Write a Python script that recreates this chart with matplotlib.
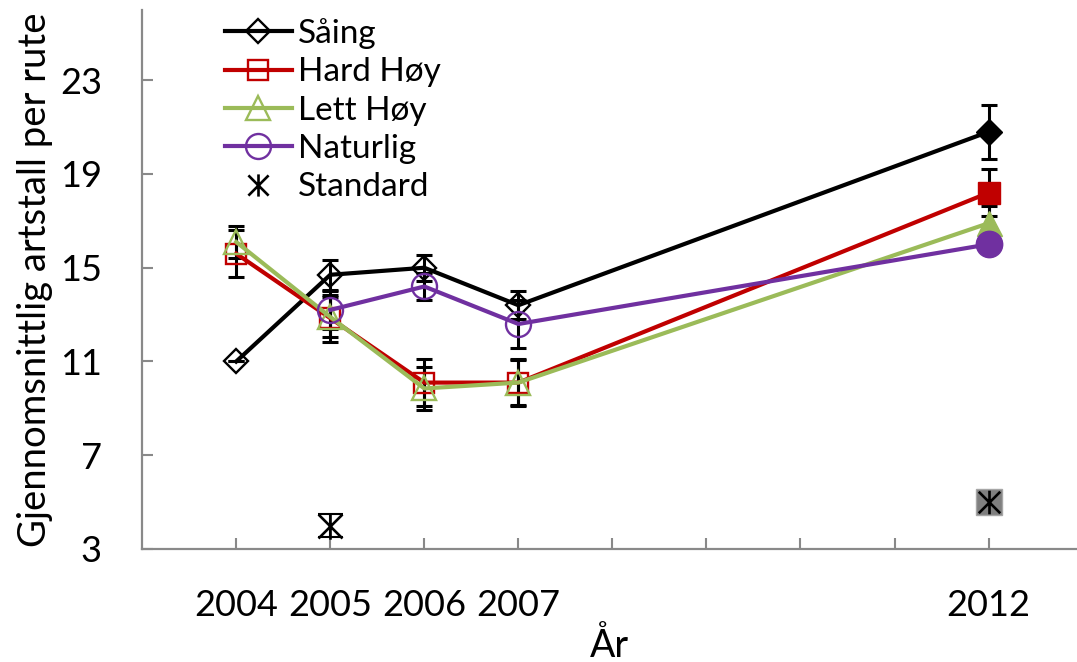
import matplotlib
matplotlib.use("Agg")
import matplotlib.pyplot as plt
from matplotlib.path import Path
from matplotlib.lines import Line2D

plt.rcParams['font.family'] = ['Lato', 'DejaVu Sans']

# ---- data ----
years = [2004, 2005, 2006, 2007, 2012]
saing = [11.0, 14.7, 15.0, 13.4, 20.8]
saing_err = [0.0, 0.65, 0.55, 0.6, 1.15]
hard_years = [2004, 2005, 2006, 2007, 2012]
hard = [15.6, 12.85, 10.1, 10.1, 18.2]
hard_err = [1.0, 1.0, 1.0, 1.0, 1.0]
lett_years = [2004, 2005, 2006, 2007, 2012]
lett = [16.1, 12.9, 9.85, 10.1, 16.9]
lett_err = [0.7, 0.85, 0.9, 0.95, 0.74]
nat_years = [2005, 2006, 2007, 2012]
nat = [13.2, 14.2, 12.6, 16.0]
nat_err = [0.8, 0.57, 1.04, 0.3]
std_years = [2005, 2012]
std = [4.0, 5.0]
std_err = [0.5, 0.0]

series_names = ["Såing", "Hard Høy", "Lett Høy", "Naturlig", "Standard"]
xtick_years = [2004, 2005, 2006, 2007, 2008, 2009, 2010, 2011, 2012]
xtick_labels = ["2004", "2005", "2006", "2007", "", "", "", "", "2012"]
ytick_values = [3, 7, 11, 15, 19, 23]
xlabel = "År"
ylabel = "Gjennomsnittlig artstall per rute"

# ---- style ----
colors = ["#000000", "#C00000", "#9BBB59", "#7030A0"]
markers = ["D", "s", "^", "o"]
msizes = [12.5, 15, 17, 18]
axis_gray = "#898989"

star = Path([(-1, -1), (1, 1), (-1, 1), (1, -1), (0, -1.1), (0, 1.1)],
            [Path.MOVETO, Path.LINETO, Path.MOVETO, Path.LINETO, Path.MOVETO, Path.LINETO])

fig = plt.figure(figsize=(10.77, 6.62), dpi=100)
ax = fig.add_axes([0.132, 0.1707, 0.868, 0.8143])

data = [(years, saing, saing_err), (hard_years, hard, hard_err),
        (lett_years, lett, lett_err), (nat_years, nat, nat_err)]

for i, (xs, ys, es) in enumerate(data):
    c = colors[i]
    ax.errorbar(xs, ys, yerr=es, fmt='none', ecolor='black', elinewidth=2.2,
                capsize=5.5, capthick=2.2, zorder=3 + i * 0.1)
    ax.plot(xs, ys, color=c, lw=3.0, zorder=3.2 + i * 0.1)
    ax.plot(xs[:-1], ys[:-1], ls='none', marker=markers[i], ms=msizes[i],
            mfc='none', mec=c, mew=1.7, zorder=3.3 + i * 0.1)
    ax.plot(xs[-1:], ys[-1:], ls='none', marker=markers[i], ms=msizes[i] + 1,
            mfc=c, mec=c, mew=1.0, zorder=3.3 + i * 0.1)

# Standard
ax.errorbar(std_years[:1], std[:1], yerr=std_err[:1], fmt='none', ecolor='black',
            elinewidth=1.5, capsize=9, capthick=1.5, zorder=4)
ax.plot(std_years[:1], std[:1], ls='none', marker=star, ms=19, mec='black',
        mew=1.9, zorder=4.1)
ax.plot(std_years[1:], std[1:], ls='none', marker='s', ms=18.5, mfc='#7F7F7F',
        mec='#A6A6A6', mew=1.0, zorder=4)
ax.plot(std_years[1:], std[1:], ls='none', marker=star, ms=17, mec='black',
        mew=1.9, zorder=4.1)

ax.set_xlim(2003, 2012.94)
ax.set_ylim(3, 26)
ax.set_xticks(xtick_years)
ax.set_xticklabels(xtick_labels)
ax.set_yticks(ytick_values)
ax.tick_params(axis='both', direction='in', length=8, width=1.5, color=axis_gray,
               labelsize=26, pad=29)
for s in ['top', 'right']:
    ax.spines[s].set_visible(False)
for s in ['left', 'bottom']:
    ax.spines[s].set_color(axis_gray)
    ax.spines[s].set_linewidth(1.6)

ax.set_xlabel(xlabel, fontsize=27, labelpad=4)
ax.set_ylabel(ylabel, fontsize=27.5, labelpad=5)

handles = []
for i in range(4):
    handles.append(Line2D([], [], color=colors[i], lw=3.0, marker=markers[i],
                          ms=msizes[i], mfc='none', mec=colors[i], mew=1.7))
handles.append(Line2D([], [], ls='none', marker=star, ms=16, mec='black', mew=1.9))
leg = ax.legend(handles, series_names, loc='upper left',
                bbox_to_anchor=(225 / 1077, 1 - 18 / 662), bbox_transform=fig.transFigure,
                frameon=False, fontsize=24, handlelength=2.0, handletextpad=0.2,
                labelspacing=0.25, borderpad=0, borderaxespad=0)

fig.savefig("out.png", dpi=100)
